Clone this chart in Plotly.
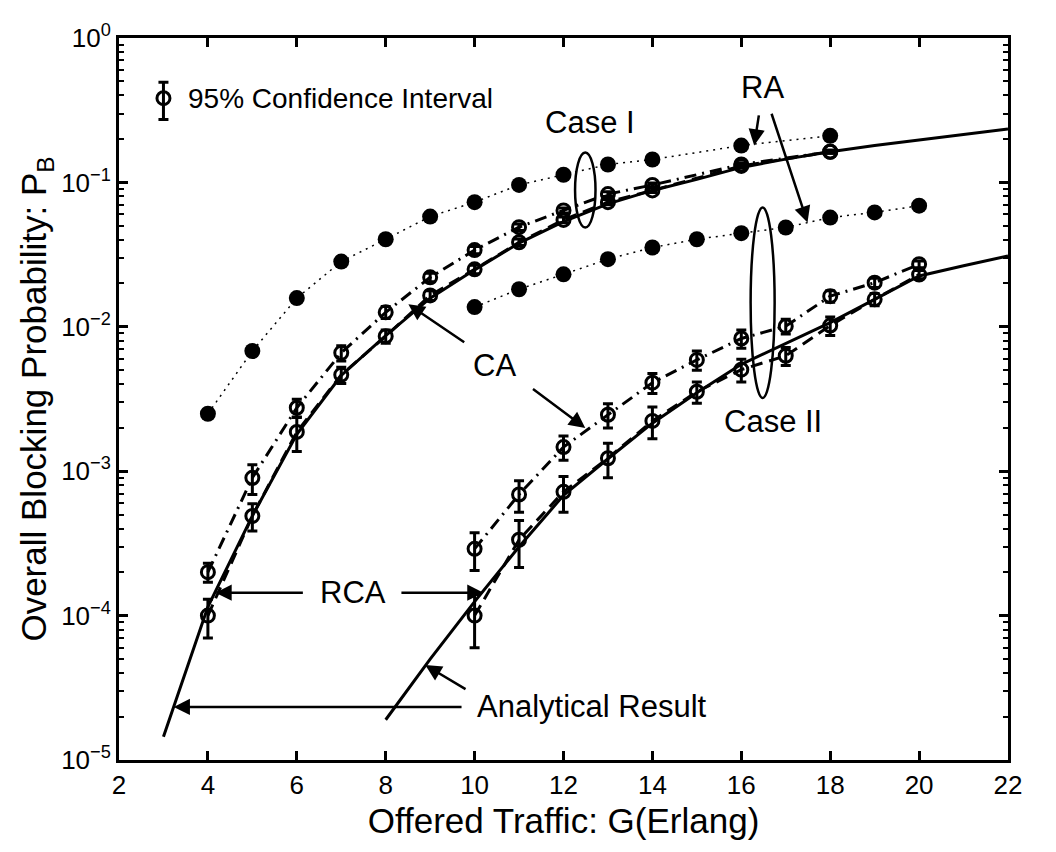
import numpy as np
import plotly.graph_objects as go

# ---------------- data ----------------
# Case I
G_ra1 = [4, 5, 6, 7, 8, 9, 10, 11, 12, 13, 14, 16, 18]
P_ra1 = [2.5e-3, 6.8e-3, 1.58e-2, 2.83e-2, 4.04e-2, 5.8e-2, 7.3e-2, 9.6e-2, 0.113, 0.133, 0.144, 0.18, 0.21]

G_sim1 = [4, 5, 6, 7, 8, 9, 10, 11, 12, 13, 14, 16, 18]
P_ca1 = [2.0e-4, 9.0e-4, 2.75e-3, 6.6e-3, 1.26e-2, 2.2e-2, 3.4e-2, 4.9e-2, 6.4e-2, 8.3e-2, 9.6e-2, 0.133, 0.163]
ci_ca1 = [3e-5, 2.1e-4, 4e-4, 8e-4, 1.2e-3, 1.5e-3, 2e-3, 2.5e-3, 2.5e-3, 3e-3, 3e-3, 4e-3, 4e-3]
P_rca1 = [1.0e-4, 4.9e-4, 1.87e-3, 4.65e-3, 8.6e-3, 1.65e-2, 2.5e-2, 3.85e-2, 5.5e-2, 7.3e-2, 8.8e-2, 0.13, 0.163]
ci_rca1 = [3e-5, 1.05e-4, 5e-4, 6e-4, 9e-4, 1.3e-3, 1.7e-3, 2e-3, 2.5e-3, 3e-3, 3e-3, 4e-3, 4e-3]

G_an1 = [3, 4, 5, 6, 7, 8, 9, 10, 11, 12, 13, 14, 15, 16, 17, 18, 19, 20, 21, 22]
P_an1 = [1.45e-5, 1.15e-4, 4.9e-4, 1.8e-3, 4.6e-3, 8.7e-3, 1.58e-2, 2.48e-2, 3.8e-2, 5.35e-2,
         7.1e-2, 8.8e-2, 0.105, 0.127, 0.145, 0.163, 0.18, 0.196, 0.215, 0.234]

# Case II
G_ra2 = [10, 11, 12, 13, 14, 15, 16, 17, 18, 19, 20]
P_ra2 = [1.37e-2, 1.82e-2, 2.31e-2, 2.94e-2, 3.54e-2, 4.04e-2, 4.45e-2, 4.87e-2, 5.71e-2, 6.2e-2, 6.9e-2]

G_sim2 = [10, 11, 12, 13, 14, 15, 16, 17, 18, 19, 20]
P_ca2 = [2.9e-4, 6.9e-4, 1.47e-3, 2.46e-3, 4.1e-3, 5.9e-3, 8.3e-3, 1.01e-2, 1.63e-2, 2.02e-2, 2.71e-2]
ci_ca2 = [8.5e-5, 1.7e-4, 2.8e-4, 4.7e-4, 6.5e-4, 9e-4, 1.2e-3, 1.2e-3, 1.5e-3, 1.5e-3, 1.5e-3]
P_rca2 = [1.0e-4, 3.35e-4, 7.2e-4, 1.23e-3, 2.23e-3, 3.55e-3, 5.05e-3, 6.3e-3, 1.02e-2, 1.55e-2, 2.3e-2]
ci_rca2 = [4e-5, 1.2e-4, 2e-4, 3.3e-4, 5.5e-4, 6e-4, 9e-4, 9e-4, 1.5e-3, 1.5e-3, 1.5e-3]

G_an2 = [8, 9, 10, 11, 12, 13, 14, 15, 16, 17, 18, 19, 20, 21, 22]
P_an2 = [1.9e-5, 5.0e-5, 1.25e-4, 3.0e-4, 6.8e-4, 1.22e-3, 2.15e-3, 3.5e-3, 5.5e-3, 7.7e-3,
         1.07e-2, 1.55e-2, 2.25e-2, 2.65e-2, 3.1e-2]

x_ticks = [2, 4, 6, 8, 10, 12, 14, 16, 18, 20, 22]
y_tickvals = [1e-5, 1e-4, 1e-3, 1e-2, 1e-1, 1e0]
y_ticktext = ["10<sup>\u22125</sup>", "10<sup>\u22124</sup>", "10<sup>\u22123</sup>",
              "10<sup>\u22122</sup>", "10<sup>\u22121</sup>", "10<sup>0</sup>"]

# ---------------- styling ----------------
FONT = "Liberation Sans, Arial, Helvetica, sans-serif"
BLACK = "black"
LW = 3

fig = go.Figure()


def sim_trace(x, y, ci, dash):
    return go.Scatter(
        x=x, y=y, mode="lines+markers",
        line=dict(color=BLACK, width=LW, dash=dash),
        marker=dict(symbol="circle-open", size=13, color=BLACK, line=dict(width=3, color=BLACK)),
        error_y=dict(type="data", array=ci, symmetric=True, color=BLACK, thickness=3, width=5),
        showlegend=False, hoverinfo="skip")


def ra_trace(x, y):
    return go.Scatter(
        x=x, y=y, mode="lines+markers",
        line=dict(color=BLACK, width=1.5, dash="2px,5px"),
        marker=dict(symbol="circle", size=16, color=BLACK),
        showlegend=False, hoverinfo="skip")


def an_trace(x, y):
    return go.Scatter(x=x, y=y, mode="lines", line=dict(color=BLACK, width=LW),
                      showlegend=False, hoverinfo="skip")


fig.add_trace(an_trace(G_an1, P_an1))
fig.add_trace(an_trace(G_an2, P_an2))
fig.add_trace(ra_trace(G_ra1, P_ra1))
fig.add_trace(ra_trace(G_ra2, P_ra2))
fig.add_trace(sim_trace(G_sim1, P_rca1, ci_rca1, "12px,7px"))
fig.add_trace(sim_trace(G_sim1, P_ca1, ci_ca1, "12px,6px,2px,6px"))
fig.add_trace(sim_trace(G_sim2, P_rca2, ci_rca2, "12px,7px"))
fig.add_trace(sim_trace(G_sim2, P_ca2, ci_ca2, "12px,6px,2px,6px"))

# legend-like confidence interval symbol
LEG_X, LEG_Y, LEG_E = 3.0, 0.383, 0.11
fig.add_trace(go.Scatter(
    x=[LEG_X], y=[LEG_Y], mode="markers",
    marker=dict(symbol="circle-open", size=13, color=BLACK, line=dict(width=3, color=BLACK)),
    error_y=dict(type="data", array=[LEG_E], symmetric=True, color=BLACK, thickness=3, width=5),
    showlegend=False, hoverinfo="skip"))

annotations = []


def text(x, y, s, xanchor="center", size=31):
    annotations.append(dict(x=x, y=np.log10(y), xref="x", yref="y", text=s, showarrow=False,
                            xanchor=xanchor, yanchor="middle",
                            font=dict(family=FONT, size=size, color=BLACK)))


def arrow(xt, yt, xh, yh):
    annotations.append(dict(x=xh, y=np.log10(yh), ax=xt, ay=np.log10(yt), xref="x", yref="y",
                            axref="x", ayref="y", text="", showarrow=True, arrowhead=2,
                            arrowsize=1.3, arrowwidth=2.5, arrowcolor=BLACK, standoff=0,
                            startstandoff=0))


text(3.5, LEG_Y, "95% Confidence Interval", xanchor="left", size=28)
text(12.6, 0.26, "Case I")
text(16.48, 0.457, "RA")
text(10.45, 5.4e-3, "CA")
text(16.71, 2.21e-3, "Case II")
text(7.27, 1.44e-4, "RCA")
text(10.02, 2.33e-5, "Analytical Result", xanchor="left")

arrow(16.4, 0.298, 16.29, 0.18)
arrow(16.67, 0.306, 17.49, 0.0527)
arrow(9.8, 7.7e-3, 8.51, 1.43e-2)
arrow(11.28, 3.77e-3, 12.49, 1.99e-3)
arrow(6.17, 1.44e-4, 4.17, 1.44e-4)
arrow(8.32, 1.44e-4, 10.2, 1.44e-4)
arrow(9.74, 2.33e-5, 3.23, 2.33e-5)
arrow(9.83, 3.05e-5, 8.89, 4.54e-5)

shapes = [
    dict(type="circle", xref="x", yref="y", x0=12.26, x1=12.72, y0=0.0487, y1=0.161,
         line=dict(color=BLACK, width=2.5)),
    dict(type="circle", xref="x", yref="y", x0=16.21, x1=16.75, y0=3.21e-3, y1=0.067,
         line=dict(color=BLACK, width=2.5)),
]

minor_vals = [k * 10.0 ** e for e in range(-5, 0) for k in range(2, 10)]

fig.update_layout(
    width=1056, height=852,
    margin=dict(l=111, r=56, t=30, b=100),
    paper_bgcolor="white", plot_bgcolor="white",
    font=dict(family=FONT, color=BLACK, size=26),
    annotations=annotations, shapes=shapes,
    xaxis=dict(range=[2, 22], tickvals=x_ticks, ticks="inside", ticklen=9, tickwidth=2.5,
               tickcolor=BLACK, showline=True, linewidth=3, linecolor=BLACK, mirror="ticks",
               showgrid=False, zeroline=False, tickfont=dict(size=26),
               title=dict(text="Offered Traffic: G(Erlang)", font=dict(size=35), standoff=10)),
    yaxis=dict(type="log", range=[-5, 0], tickvals=y_tickvals, ticktext=y_ticktext,
               ticks="inside", ticklen=9, tickwidth=2.5, tickcolor=BLACK,
               showline=True, linewidth=3, linecolor=BLACK, mirror="ticks",
               showgrid=False, zeroline=False, tickfont=dict(size=26),
               minor=dict(tickmode="array", tickvals=minor_vals, ticks="inside", ticklen=5,
                          tickwidth=2, tickcolor=BLACK, showgrid=False),
               title=dict(text="Overall Blocking Probability: P<sub>B</sub>", font=dict(size=35),
                          standoff=4)),
)

fig.write_html("out.html")
